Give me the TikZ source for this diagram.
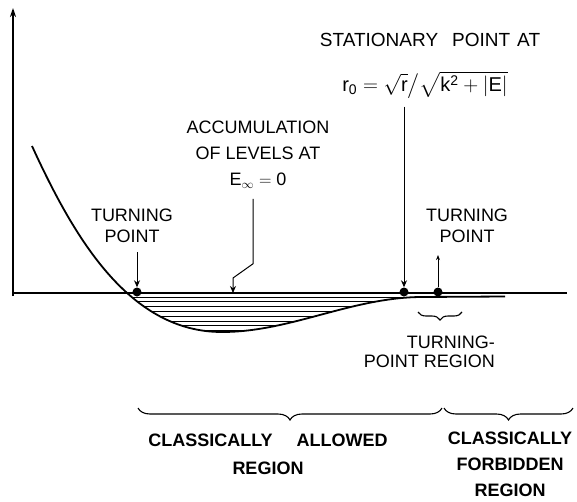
\documentclass[tikz,border=0pt]{standalone}
\usepackage{fontspec}
\setmainfont{Liberation Sans}
\setsansfont{Liberation Sans}
\usepackage{amsmath}
\usetikzlibrary{arrows.meta,positioning,calc,decorations.pathreplacing}

\def\wellpath{(32,146) .. controls (75,240) and (130,332) .. (222,332)
  .. controls (290,332) and (350,298) .. (420,297) -- (505,296.5)}

\begin{document}
\begin{tikzpicture}[x=1pt, y=-1pt,
    lbl/.style={font=\fontsize{18}{21}\selectfont, align=center, inner sep=0pt},
    bold lbl/.style={font=\fontsize{18}{28}\selectfont\bfseries, align=center, inner sep=0pt},
    pointer/.style={line width=1pt, -{Stealth[length=7pt,width=6pt]}},
    marker/.style={circle, fill=black, inner sep=0pt, minimum size=9pt},
    hatch/.style={line width=0.8pt},
    axis/.style={line width=1.4pt},
    curly/.style={line width=1.1pt, decorate, decoration={brace, mirror, amplitude=#1}}]
  \useasboundingbox (0,0) rectangle (577,501);
  % Hatched well below the axis
  \begin{scope}
    \clip (0,293) rectangle (577,340);
    \clip \wellpath -- cycle;
    \foreach \y in {297,301.8,...,333}
      \draw[hatch] (100,\y) -- (520,\y);
  \end{scope}
  % Axes and potential
  \draw[axis, -{Stealth[length=9pt,width=6pt]}] (13,296) -- (13,8);
  \draw[axis] (13,293) -- (567,293);
  \draw[line width=1.8pt] \wellpath;
  % Labels
  \node[lbl] (tpleft) at (132,226) {TURNING\\POINT};
  \node[lbl] (tpright) at (467,226) {TURNING\\POINT};
  \node[lbl, font=\fontsize{18}{26}\selectfont] (accum) at (258,155)
    {ACCUMULATION\\OF LEVELS AT\\$\mathsf{E}_{\infty} = \mathsf{0}$};
  \node[lbl, font=\fontsize{19}{22}\selectfont] (statlabel) at (430,40)
    {STATIONARY\hspace{14pt}POINT\hspace{7pt}AT};
  \node[lbl, font=\fontsize{20}{24}\selectfont] (formula) at (425,85)
    {$\mathsf{r_0} = \sqrt{\mathsf{r}}\big/\sqrt{\mathsf{k}^{\mathsf{2}} + \lvert\mathsf{E}\rvert}$};
  \node[lbl, font=\fontsize{18}{19}\selectfont, align=right, anchor=east] (tpregion)
    at (495,352) {TURNING-\\POINT REGION};
  \node[bold lbl] (allowed) at (268,454) {CLASSICALLY\hspace{24pt}ALLOWED\\REGION};
  \node[bold lbl, font=\fontsize{18}{26}\selectfont\bfseries] (forbidden)
    at (510,464) {CLASSICALLY\\FORBIDDEN\\REGION};
  % Points on the axis
  \node[marker] (tpl) at (137,292) {};
  \node[marker] (stat) at (404,292) {};
  \node[marker] (tpr) at (438,292) {};
  \coordinate (acc) at (233,293);
  % Pointers
  \draw[pointer] ($(tpl |- tpleft.south)+(0,9)$) -- (tpl);
  \draw[pointer] ($(stat |- formula.south)+(0,8)$) -- (stat);
  \draw[line width=1pt, -{Stealth[length=5pt,width=4pt]}] (tpr) -- ($(tpr |- tpright.south)+(0,12)$);
  \draw[pointer] ($(accum.south)+(-5,10)$) -- ++(0,65) -- ($(acc)+(0,-15)$) -- (acc);
  % Braces
  \draw[curly=8] (418,312) -- (462,312);
  \draw[curly=12] (138,408) -- (442,408);
  \draw[curly=12] (444,408) -- (573,408);
\end{tikzpicture}
\end{document}
